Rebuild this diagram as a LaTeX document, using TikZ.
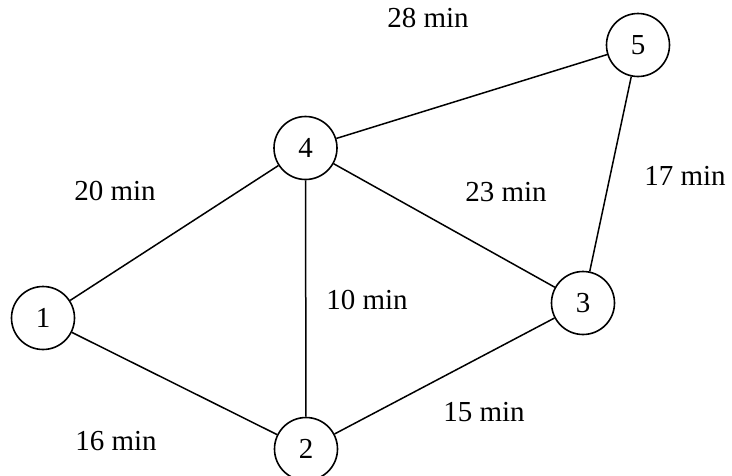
\documentclass[tikz,border=0pt]{standalone}
\usepackage{fontspec}
\setmainfont{Liberation Serif}
\begin{document}
\begin{tikzpicture}[x=1pt,y=-1pt,
  vert/.style={draw,circle,line width=1.6pt,minimum size=63pt,inner sep=0pt,font=\fontsize{29}{31}\selectfont},
  lab/.style={font=\fontsize{29}{31}\selectfont,inner sep=0pt},
  edge/.style={line width=1.5pt}]
\useasboundingbox (0,0) rectangle (732,475);
\node[vert] (n1) at (43,318) {1};
\node[vert] (n4) at (305.5,148) {4};
\node[vert] (n5) at (638,45) {5};
\node[vert] (n3) at (583,303) {3};
\node[vert] (n2) at (306,449) {2};
\draw[edge] (n1) -- (n4);
\draw[edge] (n1) -- (n2);
\draw[edge] (n4) -- (n2);
\draw[edge] (n4) -- (n3);
\draw[edge] (n4) -- (n5);
\draw[edge] (n5) -- (n3);
\draw[edge] (n2) -- (n3);
\node[lab] (l45) at (428,18) {28 min};
\node[lab] (l14) at (115,191) {20 min};
\node[lab] (l43) at (506,192) {23 min};
\node[lab] (l53) at (685,176) {17 min};
\node[lab] (l42) at (367,300) {10 min};
\node[lab] (l12) at (116,441) {16 min};
\node[lab] (l23) at (484,412) {15 min};
\end{tikzpicture}
\end{document}
